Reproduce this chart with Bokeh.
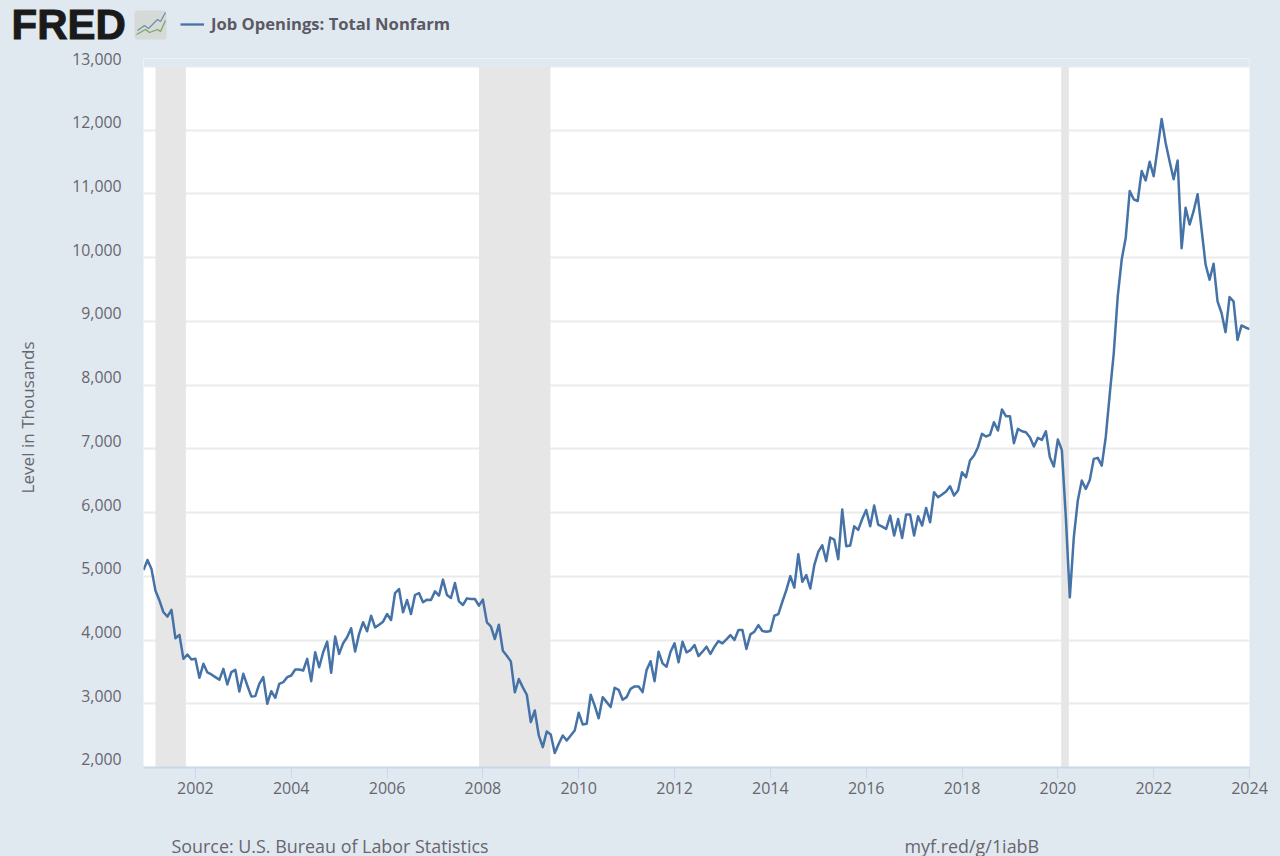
from bokeh.plotting import figure
from bokeh.layouts import column
from bokeh.models import (Range1d, FixedTicker, NumeralTickFormatter, Label, Legend, LegendItem, LinearAxis, Grid,
                          Title)
from bokeh.embed import file_html
from bokeh.resources import INLINE

series_name = "Job Openings: Total Nonfarm"
start_year = 2000 + 11 / 12

y2000_01 = [5099, 5256, 5115, 4775, 4620, 4436, 4368, 4473, 4029, 4081, 3705, 3773, 3695]
y2002 = [3705, 3407, 3627, 3491, 3460, 3418, 3376, 3548, 3303, 3496, 3533, 3193]
y2003 = [3470, 3287, 3115, 3120, 3313, 3418, 3000, 3198, 3094, 3313, 3339, 3418]
y2004 = [3444, 3538, 3538, 3522, 3705, 3355, 3809, 3574, 3809, 3976, 3486, 4055]
y2005 = [3783, 3950, 4044, 4185, 3820, 4097, 4279, 4138, 4382, 4199, 4241, 4288]
y2006 = [4408, 4314, 4738, 4801, 4435, 4628, 4408, 4707, 4738, 4592, 4634, 4628]
y2007 = [4764, 4696, 4948, 4707, 4660, 4895, 4607, 4550, 4654, 4644, 4644, 4540]
y2008 = [4634, 4278, 4215, 4016, 4241, 3833, 3754, 3665, 3180, 3388, 3257, 3142]
y2009 = [2712, 2895, 2503, 2320, 2566, 2519, 2226, 2372, 2503, 2425, 2503, 2582]
y2010 = [2859, 2676, 2686, 3142, 2970, 2772, 3104, 3026, 2948, 3250, 3219, 3063]
y2011 = [3104, 3235, 3272, 3272, 3183, 3530, 3668, 3355, 3817, 3634, 3582, 3817]
y2012 = [3948, 3650, 3974, 3807, 3843, 3922, 3749, 3817, 3896, 3781, 3896, 3984]
y2013 = [3948, 4010, 4078, 4000, 4157, 4157, 3859, 4089, 4131, 4235, 4141, 4131]
y2014 = [4141, 4381, 4407, 4601, 4783, 5003, 4825, 5347, 4914, 5018, 4809, 5175]
y2015 = [5384, 5488, 5238, 5608, 5577, 5269, 6047, 5473, 5482, 5785, 5728, 5900]
y2016 = [6042, 5785, 6110, 5812, 5780, 5743, 5953, 5639, 5900, 5602, 5969, 5969]
y2017 = [5639, 5942, 5796, 6073, 5848, 6319, 6241, 6283, 6330, 6414, 6267, 6346]
y2018 = [6634, 6555, 6817, 6895, 7026, 7236, 7194, 7220, 7419, 7288, 7618, 7513]
y2019 = [7513, 7089, 7314, 7277, 7262, 7183, 7037, 7173, 7141, 7277, 6869, 6723]
y2020 = [7147, 6984, 5927, 4670, 5613, 6190, 6503, 6372, 6513, 6843, 6859, 6738]
y2021 = [7187, 7860, 8500, 9394, 9974, 10314, 11047, 10916, 10890, 11360, 11213, 11505]
y2022 = [11280, 11720, 12178, 11800, 11510, 11230, 11525, 10150, 10785, 10520, 10730, 10995]
y2023 = [10440, 9893, 9655, 9905, 9316, 9132, 8832, 9383, 9316, 8710, 8937, 8905]
y2024 = [8880]

recession_start = [2001.167, 2007.92, 2020.07]
recession_end = [2001.80, 2009.41, 2020.23]
y_ticks = [2000, 3000, 4000, 5000, 6000, 7000, 8000, 9000, 10000, 11000, 12000, 13000]
x_ticks = [2002, 2004, 2006, 2008, 2010, 2012, 2014, 2016, 2018, 2020, 2022, 2024]
source_text = "Source: U.S. Bureau of Labor Statistics"
link_text = "myf.red/g/1iabB"

values = (y2000_01 + y2002 + y2003 + y2004 + y2005 + y2006 + y2007 + y2008 + y2009 + y2010 + y2011
          + y2012 + y2013 + y2014 + y2015 + y2016 + y2017 + y2018 + y2019 + y2020 + y2021 + y2022
          + y2023 + y2024)
dates = [start_year + i / 12 for i in range(len(values))]

BG = "#e1e9f0"
TXT = "#66666e"
FONT = "Open Sans"
Y_TOP = 13126       # frame top: a strip above 13,000 that holds the top tick label
SHIFT = 126         # tick labels sit 8px above their gridlines
STYLE = {"background-color": BG}

p = figure(width=1280, height=767, output_backend="svg", toolbar_location=None,
           x_range=Range1d(start_year, 2024), y_range=Range1d(2000, Y_TOP),
           x_axis_location="below", y_axis_location=None,
           min_border_left=143, min_border_right=31, min_border_top=10, min_border_bottom=48,
           background_fill_color="white", border_fill_color=BG, styles=STYLE)
p.frame_align = False
p.outline_line_color = None
p.xgrid.visible = False
p.extra_y_ranges = {"labels": Range1d(2000 - SHIFT, Y_TOP - SHIFT + 1)}
p.add_layout(Grid(dimension=1, ticker=FixedTicker(ticks=y_ticks), grid_line_color="#ebebeb", grid_line_width=2))

ax = p.xaxis[0]
ax.ticker = FixedTicker(ticks=x_ticks)
ax.formatter = NumeralTickFormatter(format="0")
ax.axis_line_color = "#ccd6eb"
ax.axis_line_width = 2
ax.major_tick_line_color = "#ccd6eb"
ax.major_tick_out = 11
ax.major_tick_in = 0
ax.minor_tick_line_color = None
ax.major_label_standoff = 3
ax.major_label_text_font = FONT
ax.major_label_text_font_size = "16px"
ax.major_label_text_color = TXT

ay = LinearAxis(y_range_name="labels", ticker=FixedTicker(ticks=y_ticks),
                formatter=NumeralTickFormatter(format="0,0"),
                axis_line_color=None, major_tick_line_color=None, minor_tick_line_color=None,
                major_tick_out=0, major_tick_in=0, major_label_standoff=22,
                major_label_text_font=FONT, major_label_text_font_size="15.8px", major_label_text_color=TXT)
p.add_layout(ay, "left")
# an axis with one background-coloured tick: only a gap between the tick labels and the axis title
gap = LinearAxis(y_range_name="labels", ticker=FixedTicker(ticks=[2000]), major_label_overrides={2000: ""},
                 axis_line_color=None, major_tick_line_color=BG, minor_tick_line_color=None,
                 major_tick_out=31, major_tick_in=0, major_label_standoff=0)
p.add_layout(gap, "left")
p.add_layout(Title(text="Level in Thousands", align="left", offset=274, standoff=0,
                   text_font=FONT, text_font_size="17.1px", text_font_style="normal", text_color=TXT), "left")

p.quad(left=[start_year], right=[2024], bottom=[13000], top=[Y_TOP], fill_color=BG, line_color=None)
p.quad(left=recession_start, right=recession_end, bottom=2000, top=13000, fill_color="#e6e6e6", line_color=None)
p.line(dates, values, line_color="#4572a7", line_width=2.5, line_join="round")


def strip(height):
    """A text strip whose scales run in pixels of the strip."""
    s = figure(width=1280, height=height, output_backend="svg", toolbar_location=None,
               x_range=Range1d(0, 1280), y_range=Range1d(height, 0), x_axis_location=None, y_axis_location=None,
               min_border=0, background_fill_color=BG, border_fill_color=BG, styles=STYLE)
    s.frame_align = False
    s.outline_line_color = None
    s.grid.visible = False
    return s


h = strip(48)
h.add_layout(Label(x=11, y=24, text="FRED", text_font="Liberation Sans", text_font_style="bold",
                   text_font_size="42px", text_color="#1a1a1a", text_baseline="middle", text_align="left",
                   text_outline_color="#1a1a1a"))
h.quad(left=[134], right=[166], top=[10], bottom=[39], fill_color="#d5dad6", line_color=None, border_radius=3)
h.line([137, 144, 148, 157, 160, 165], [30, 25, 28, 19, 21, 12], line_color="#6d8fb0", line_width=1.3)
h.line([136, 145, 149, 157, 160, 165], [34, 29, 32, 29, 31, 20], line_color="#7fa36a", line_width=1.3)
key = h.line([float("nan")], [float("nan")], line_color="#4572a7", line_width=2.3)
h.add_layout(Legend(items=[LegendItem(label=series_name, renderers=[key])], location=(180, 13),
                    background_fill_alpha=0, border_line_alpha=0, padding=0, margin=0, glyph_width=24,
                    label_text_font=FONT, label_text_font_size="16.6px", label_text_font_style="bold",
                    label_text_color="#5a5a62", label_standoff=7))

f = strip(41)
for x, text in ((171, source_text), (904, link_text)):
    f.add_layout(Label(x=x, y=30, text=text, text_font=FONT, text_font_size="17.9px", text_color=TXT,
                       text_baseline="middle", text_align="left"))

if len(values) != 278:
    raise SystemExit(f"len {len(values)}")

open("out.html", "w").write(file_html(column(h, p, f, spacing=0, styles=STYLE), INLINE))
